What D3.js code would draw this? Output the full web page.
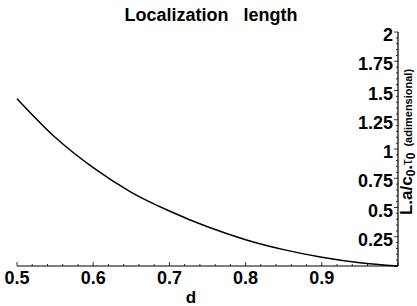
<!DOCTYPE html>
<html>
<head>
<meta charset="utf-8">
<script src="https://cdn.jsdelivr.net/npm/d3@7"></script>
<style>
  body { margin: 0; background: #fff; }
  text { font-family: "Liberation Sans", Arial, Helvetica, sans-serif; font-weight: bold; }
</style>
</head>
<body>
<div id="chart"></div>
<script>
// values
const dValues = [0.5, 0.55, 0.6, 0.65, 0.7, 0.75, 0.8, 0.85, 0.9, 0.95, 1.0];
const lengthValues = [1.43, 1.1, 0.84, 0.63, 0.47, 0.335, 0.225, 0.14, 0.075, 0.028, 0.0];
const xTicks = [0.5, 0.6, 0.7, 0.8, 0.9];
const yTicks = [0.25, 0.5, 0.75, 1, 1.25, 1.5, 1.75, 2];

const width = 417;
const height = 306;
const margin = { top: 32, right: 19, bottom: 40, left: 17 };

const svg = d3.select('#chart').append('svg').attr('width', width).attr('height', height);

const x = d3.scaleLinear().domain([0.5, 1.0]).range([margin.left, width - margin.right]);
const y = d3.scaleLinear().domain([0, 2]).range([height - margin.bottom, margin.top]);

const data = dValues.map((d, i) => ({ d, v: lengthValues[i] }));

// x axis, ticks pointing up into the plot
const xAxis = svg.append('g').attr('transform', 'translate(0,' + y(0) + ')');
xAxis.append('line').attr('x1', x(0.5)).attr('x2', x(1.0)).attr('stroke', '#000').attr('stroke-width', 1.2);
xAxis
  .selectAll('.minor')
  .data(d3.range(0.5, 1.0001, 0.02))
  .enter()
  .append('line')
  .attr('x1', (d) => x(d))
  .attr('x2', (d) => x(d))
  .attr('y1', 0)
  .attr('y2', (d) => (Math.abs(d * 10 - Math.round(d * 10)) < 1e-6 ? -4 : -2))
  .attr('stroke', '#000')
  .attr('stroke-width', 0.8);
xAxis
  .selectAll('.lab')
  .data(xTicks)
  .enter()
  .append('text')
  .attr('x', (d) => x(d))
  .attr('y', 18)
  .attr('text-anchor', 'middle')
  .style('font-size', '18px')
  .text((d) => d3.format('.1f')(d));

// y axis on the right, ticks pointing left
const yAxis = svg.append('g').attr('transform', 'translate(' + x(1.0) + ',0)');
yAxis.append('line').attr('y1', y(0)).attr('y2', y(2)).attr('stroke', '#000').attr('stroke-width', 1.2);
yAxis
  .selectAll('.minor')
  .data(d3.range(0, 2.0001, 0.05))
  .enter()
  .append('line')
  .attr('y1', (d) => y(d))
  .attr('y2', (d) => y(d))
  .attr('x1', 0)
  .attr('x2', (d) => (Math.abs(d * 4 - Math.round(d * 4)) < 1e-6 ? -4 : -2))
  .attr('stroke', '#000')
  .attr('stroke-width', 0.8);
yAxis
  .selectAll('.lab')
  .data(yTicks)
  .enter()
  .append('text')
  .attr('x', -5)
  .attr('y', (d) => y(d) + 9)
  .attr('text-anchor', 'end')
  .style('font-size', '18px')
  .text((d) => d);

// curve
const line = d3
  .line()
  .x((p) => x(p.d))
  .y((p) => y(p.v))
  .curve(d3.curveMonotoneX);
svg.append('path').datum(data).attr('d', line).attr('fill', 'none').attr('stroke', '#000').attr('stroke-width', 1.5);

// title
svg
  .append('text')
  .attr('x', 211)
  .attr('y', 21)
  .attr('text-anchor', 'middle')
  .style('font-size', '18px')
  .attr('xml:space', 'preserve')
  .text('Localization   length');

// x label
svg.append('text').attr('x', 191).attr('y', 303).attr('text-anchor', 'middle').style('font-size', '17px').text('d');

// y label, rotated, on the right edge
const yLab = svg
  .append('text')
  .attr('transform', 'translate(412,142) rotate(-90)')
  .attr('text-anchor', 'middle')
  .attr('xml:space', 'preserve')
  .style('font-size', '17px');
yLab.append('tspan').text('L.a/c');
yLab.append('tspan').attr('dy', 3).style('font-size', '12px').text('0');
yLab.append('tspan').attr('dy', -3).text('.');
yLab.append('tspan').style('font-size', '14px').style('font-weight', 'normal').text('τ');
yLab.append('tspan').attr('dy', 3).style('font-size', '12px').text('0');
yLab.append('tspan').attr('dy', -3).style('font-size', '11px').text('  (adimensional)');
</script>
</body>
</html>
